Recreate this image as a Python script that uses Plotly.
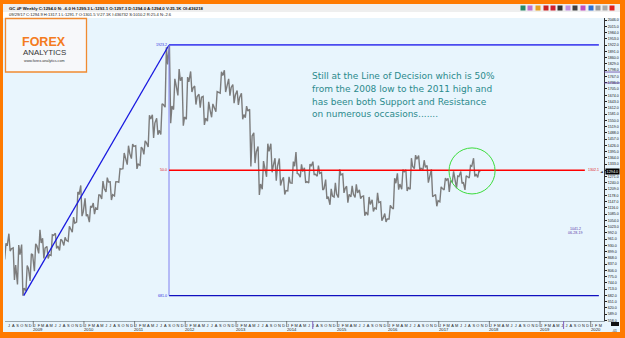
import plotly.graph_objects as go
import pandas as pd

# ---------------- data (monthly high / low / close) ----------------
first_month = "2008-06"
highs = [940, 988, 918, 932, 934, 830, 888,
         938, 1007, 965, 925, 982, 990, 960, 970, 1025, 1070, 1195, 1227,
         1163, 1125, 1140, 1180, 1249, 1266, 1245, 1245, 1310, 1388, 1424, 1432,
         1424, 1417, 1448, 1575, 1577, 1560, 1632, 1912, 1923.2, 1755, 1804, 1764,
         1764, 1792, 1720, 1679, 1668, 1641, 1631, 1692, 1790, 1798, 1755, 1727,
         1697, 1684, 1620, 1605, 1488, 1420, 1348, 1434, 1434, 1362, 1361, 1267,
         1270, 1345, 1392, 1332, 1315, 1333, 1345, 1325, 1292, 1256, 1210, 1240,
         1307, 1284, 1223, 1225, 1232, 1205, 1175, 1170, 1156, 1191, 1146, 1088,
         1128, 1263, 1287, 1306, 1305, 1362, 1377, 1375, 1352, 1326, 1307, 1182,
         1220, 1264, 1262, 1297, 1274, 1296, 1275, 1326, 1362, 1299]
lows = [860, 902, 759, 736, 681, 705, 754,
        802, 890, 865, 865, 880, 915, 905, 930, 950, 995, 1045, 1075,
        1075, 1045, 1085, 1110, 1160, 1195, 1155, 1175, 1243, 1310, 1330, 1360,
        1309, 1327, 1381, 1418, 1462, 1478, 1480, 1615, 1535, 1603, 1673, 1523,
        1555, 1690, 1628, 1613, 1527, 1546, 1565, 1592, 1684, 1690, 1672, 1635,
        1626, 1555, 1563, 1321, 1338, 1180, 1208, 1270, 1292, 1251, 1227, 1182,
        1200, 1238, 1286, 1268, 1240, 1240, 1281, 1273, 1205, 1160, 1131, 1170,
        1167, 1190, 1142, 1170, 1168, 1162, 1077, 1080, 1098, 1111, 1052, 1046,
        1061, 1111, 1206, 1208, 1200, 1208, 1310, 1302, 1305, 1241, 1171, 1124,
        1146, 1205, 1195, 1244, 1214, 1237, 1205, 1264, 1271, 1267]
closes = [928, 913, 833, 884, 718, 816, 884,
          928, 942, 917, 884, 979, 927, 955, 955, 1008, 1040, 1182, 1096,
          1083, 1118, 1116, 1180, 1212, 1244, 1181, 1246, 1308, 1357, 1386, 1421,
          1333, 1410, 1439, 1556, 1536, 1500, 1628, 1827, 1620, 1724, 1746, 1566,
          1740, 1711, 1668, 1664, 1560, 1604, 1614, 1688, 1772, 1717, 1713, 1675,
          1663, 1578, 1596, 1472, 1393, 1234, 1313, 1396, 1327, 1323, 1250, 1202,
          1240, 1322, 1284, 1296, 1246, 1322, 1282, 1287, 1210, 1172, 1175, 1184,
          1279, 1213, 1183, 1183, 1190, 1172, 1095, 1133, 1115, 1142, 1065, 1061,
          1118, 1238, 1234, 1295, 1216, 1321, 1357, 1312, 1317, 1276, 1174, 1152,
          1212, 1253, 1249, 1268, 1271, 1243, 1270, 1322, 1284, 1294]

swing_dates = ["2008-10-24", "2011-09-06"]      # 2008 low, 2011 high
line_end = "2020-02-29"
fib_label_end = "2019-11-20"
circle_dates = ["2017-03-16", "2018-02-11"]
circle_prices = [1185, 1413]
cursor_text = ["1041.2", "06-28-19"]
month_letters = ["J", "F", "M", "A", "M", "J", "J", "A", "S", "O", "N", "D"]
years = list(range(2009, 2021))
y_ticks = list(range(558, 2047, 31))
header1 = "GC #F Weekly C:1294.0 N: -6.0 H:1299.3 L:1293.1 O:1297.3 D:1294.0 A:1294.0 V:25.1K OI:436218"
header2 = "09/29/17 C:1294.9 H:1317.1 L:1291.7 O:1301.5 V:27.1K I:436732 S:1010.2 R:25.4 N:-2.6"
comment = ["Still at the Line of Decision which is 50%",
           "from the 2008 low to the 2011 high and",
           "has been both Support and Resistance",
           "on numerous occasions......."]

# ---------------- layout helpers ----------------
W, H = 625, 338
ML, MR, MT, MB = 5, 21, 18, 17
PW, PH = W - ML - MR, H - MT - MB


def px_x(p):
    return (p - ML) / PW


def px_y(p):
    return (H - MB - p) / PH


periods = pd.period_range(first_month, periods=len(closes), freq="M")

# zig-zag path through each month's extremes
xs, ys = [], []
prev = closes[0]
for p, h, l, c in zip(periods, highs, lows, closes):
    base = p.start_time
    a, b = (l, h) if c >= prev else (h, l)
    xs += [base + pd.Timedelta(days=8), base + pd.Timedelta(days=17), base + pd.Timedelta(days=26)]
    ys += [a, b, c]
    prev = c

lo = min(lows)
hi = max(highs)
mid = (lo + hi) / 2

fig = go.Figure()
fig.add_trace(go.Scatter(x=xs, y=ys, mode="lines", line=dict(color="#7c7c7c", width=1.4),
                         hoverinfo="skip", showlegend=False))

ORANGE = "#FF7A00"
BG = "#E8F5FD"
shapes = []
# inner background & header rows
shapes.append(dict(type="rect", xref="paper", yref="paper", x0=px_x(3), x1=px_x(620), y0=px_y(332), y1=px_y(4),
                   fillcolor=BG, line=dict(width=0), layer="below"))
shapes.append(dict(type="rect", xref="paper", yref="paper", x0=px_x(3), x1=px_x(620), y0=px_y(12), y1=px_y(4),
                   fillcolor="#EFEFEF", line=dict(width=0), layer="below"))
shapes.append(dict(type="rect", xref="paper", yref="paper", x0=px_x(3), x1=px_x(620), y0=px_y(18), y1=px_y(12),
                   fillcolor="#FFFFFF", line=dict(width=0), layer="below"))
# logo box
shapes.append(dict(type="rect", xref="paper", yref="paper", x0=px_x(5.5), x1=px_x(86.5), y0=px_y(72), y1=px_y(18.5),
                   fillcolor="#F7F8FA", line=dict(color="#F08A30", width=1.3)))
# fib / trend lines
shapes.append(dict(type="line", x0=swing_dates[0], y0=lo, x1=swing_dates[1], y1=hi,
                   line=dict(color="#1818E0", width=1.3)))
shapes.append(dict(type="line", x0=swing_dates[1], y0=hi, x1=line_end, y1=hi,
                   line=dict(color="#4B4BEF", width=1.8)))
shapes.append(dict(type="line", x0=swing_dates[1], y0=lo, x1=line_end, y1=lo,
                   line=dict(color="#1010C0", width=1.3)))
shapes.append(dict(type="line", x0=swing_dates[1], y0=lo, x1=swing_dates[1], y1=hi,
                   line=dict(color="#8080F0", width=1)))
shapes.append(dict(type="line", x0=swing_dates[1], y0=mid, x1=fib_label_end, y1=mid,
                   line=dict(color="#FF0000", width=1.6)))
shapes.append(dict(type="circle", x0=circle_dates[0], x1=circle_dates[1], y0=circle_prices[0], y1=circle_prices[1],
                   line=dict(color="#3CDC3C", width=1)))
# year separators on the time axis
for yr in years:
    shapes.append(dict(type="line", xref="x", yref="paper", x0=f"{yr}-01-01", x1=f"{yr}-01-01",
                       y0=px_y(327), y1=px_y(321), line=dict(color="#555555", width=0.7)))
for d in ["2014-07-08", "2019-06-20"]:
    shapes.append(dict(type="line", xref="x", yref="paper", x0=d, x1=d,
                       y0=px_y(329), y1=px_y(321), line=dict(color="#8060C0", width=1)))
# purple markers on the price axis
for v in [1789, 1735]:
    shapes.append(dict(type="line", xref="paper", yref="y", x0=px_x(604), x1=px_x(620), y0=v, y1=v,
                       line=dict(color="#6040A0", width=0.8)))
# bottom right block
shapes.append(dict(type="rect", xref="paper", yref="paper", x0=px_x(611), x1=px_x(619), y0=px_y(326), y1=px_y(322),
                   fillcolor="#111111", line=dict(width=0)))
# toolbar icons
icon_x = [523, 530, 538, 546, 553, 560, 568, 575, 583, 591, 598, 605, 612]
icon_c = ["#2A8A6A", "#C070D0", "#E8A020", "#CC2020", "#D02030", "#333333", "#C090E0",
          "#404040", "#C050C0", "#3070D0", "#999999", "#AAAAAA", "#E02020"]
for ix, ic in zip(icon_x, icon_c):
    shapes.append(dict(type="rect", xref="paper", yref="paper", x0=px_x(ix - 2.5), x1=px_x(ix + 2.5),
                       y0=px_y(10.5), y1=px_y(5.5), fillcolor=ic, line=dict(width=0)))
# orange frame
for x0, x1, y0, y1 in [(0, 3, 0, H), (620, W, 0, H), (0, W, 0, 4), (0, W, 332, H)]:
    shapes.append(dict(type="rect", xref="paper", yref="paper", x0=px_x(x0), x1=px_x(x1), y0=px_y(y1), y1=px_y(y0),
                       fillcolor=ORANGE, line=dict(width=0)))

ann = []
SMALL = "Liberation Sans"
ann.append(dict(xref="paper", yref="paper", x=px_x(7), y=px_y(8.2), xanchor="left", yanchor="middle",
                text="<b>" + header1 + "</b>", showarrow=False, font=dict(family=SMALL, size=4.3, color="#111")))
ann.append(dict(xref="paper", yref="paper", x=px_x(7), y=px_y(14.8), xanchor="left", yanchor="middle",
                text=header2, showarrow=False, font=dict(family=SMALL, size=4.1, color="#222")))
ann.append(dict(xref="paper", yref="paper", x=px_x(44), y=px_y(41.8), xanchor="center", yanchor="middle",
                text="<b>FOREX</b>", showarrow=False, borderpad=0,
                font=dict(family="Liberation Sans", size=12.5, color="#F47B20")))
ann.append(dict(xref="paper", yref="paper", x=px_x(44), y=px_y(53), xanchor="center", yanchor="middle",
                text="ANALYTICS", showarrow=False, borderpad=0,
                font=dict(family="Liberation Sans", size=7.9, color="#333333")))
ann.append(dict(xref="paper", yref="paper", x=px_x(44), y=px_y(61), xanchor="center", yanchor="middle",
                text="www.forex-analytics.com", showarrow=False, borderpad=0,
                font=dict(family="Liberation Sans", size=3.7, color="#333")))
for i, line in enumerate(comment):
    ann.append(dict(xref="paper", yref="paper", x=px_x(310), y=px_y(76.2 + 12.7 * i), xanchor="left",
                    yanchor="middle", text=line, showarrow=False,
                    font=dict(family="DejaVu Sans", size=9, color="#2B8A8C")))
# fib labels
ann.append(dict(x=swing_dates[1], y=hi, xanchor="right", yanchor="middle", xshift=-1, text=f"{hi:.1f}",
                showarrow=False, borderpad=0, font=dict(family=SMALL, size=3.6, color="#3030E0")))
ann.append(dict(x=swing_dates[1], y=lo, xanchor="right", yanchor="middle", xshift=-1, text=f"{lo:.1f}",
                showarrow=False, borderpad=0, font=dict(family=SMALL, size=3.6, color="#3030E0")))
ann.append(dict(x=swing_dates[1], y=mid, xanchor="right", yanchor="middle", xshift=-1, text="50.0",
                showarrow=False, borderpad=0, font=dict(family=SMALL, size=3.6, color="#E02020")))
ann.append(dict(x=fib_label_end, y=mid, xanchor="left", yanchor="middle", xshift=2, text=f"{mid:.1f}",
                showarrow=False, borderpad=0, font=dict(family=SMALL, size=3.6, color="#E02020")))
# last price box on axis
ann.append(dict(xref="paper", yref="y", x=px_x(605), y=closes[-1], xanchor="left", yanchor="middle",
                text=f"{closes[-1]:.1f}", showarrow=False, bgcolor="#000000", borderpad=0.6,
                font=dict(family=SMALL, size=3.8, color="#FFFFFF")))
ann.append(dict(xref="paper", yref="y", x=px_x(604), y=closes[-1], xanchor="right", yanchor="middle",
                text="◄", showarrow=False, borderpad=0, font=dict(family="DejaVu Sans", size=3.6, color="#000")))
# cursor readout
for i, t in enumerate(cursor_text):
    ann.append(dict(xref="paper", yref="paper", x=px_x(575), y=px_y(228.8 + 3.9 * i), xanchor="center",
                    yanchor="middle", text=t, showarrow=False, borderpad=0,
                    font=dict(family=SMALL, size=3.6, color="#5A3CA8")))
# year labels
for yr in years:
    ann.append(dict(xref="x", yref="paper", x=f"{yr}-02-05", y=px_y(329.8), xanchor="center", yanchor="middle",
                    text=str(yr), showarrow=False, borderpad=0, font=dict(family=SMALL, size=4.2, color="#222")))
ann.append(dict(xref="paper", yref="paper", x=px_x(614), y=px_y(330.5), xanchor="center", yanchor="middle",
                text="-01", showarrow=False, borderpad=0, font=dict(family=SMALL, size=3.4, color="#222")))

tick_months = pd.period_range("2008-07", "2020-03", freq="M")
tickvals = [(p.start_time + pd.Timedelta(days=9)).strftime("%Y-%m-%d") for p in tick_months]
ticktext = [month_letters[p.month - 1] for p in tick_months]

fig.update_layout(
    width=W, height=H, margin=dict(l=ML, r=MR, t=MT, b=MB, pad=0),
    paper_bgcolor=ORANGE, plot_bgcolor=BG, showlegend=False,
    shapes=shapes, annotations=ann,
    xaxis=dict(type="date", range=["2008-06-11", "2020-04-06"], tickmode="array", tickvals=tickvals,
               ticktext=ticktext, tickangle=0, ticks="", showgrid=False, zeroline=False,
               showline=True, linecolor="#9AA8B0", linewidth=1,
               tickfont=dict(family=SMALL, size=3.9, color="#222")),
    yaxis=dict(side="right", range=[555.3, 2056.8], tickmode="array", tickvals=y_ticks,
               ticktext=[f"{v:.1f}" for v in y_ticks], ticks="outside", ticklen=2, tickwidth=0.6,
               tickcolor="#222", showgrid=False, zeroline=False, showline=True, linecolor="#333",
               linewidth=1, tickfont=dict(family=SMALL, size=3.6, color="#111")),
)

fig.write_html("out.html")
